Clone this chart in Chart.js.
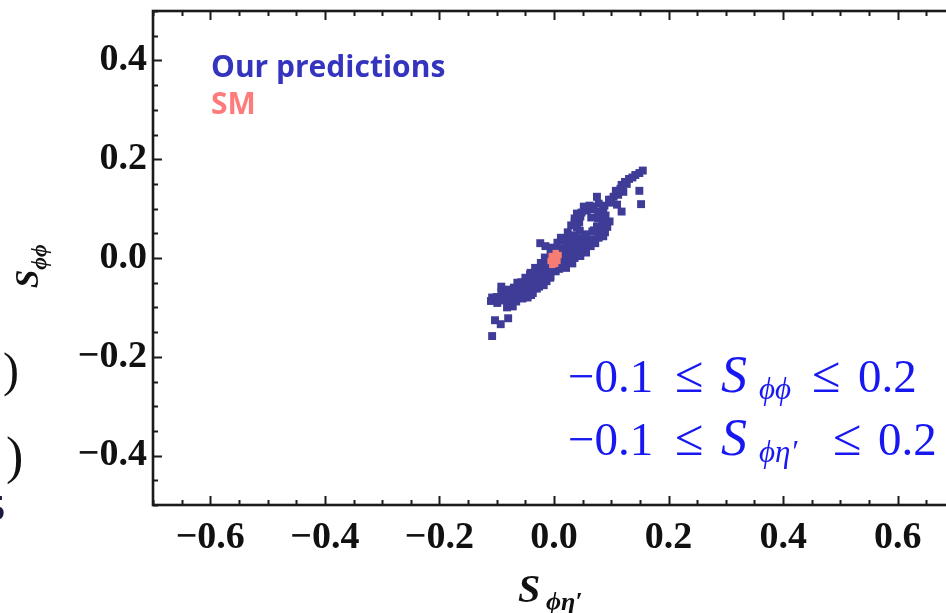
<!DOCTYPE html>
<html>
<head>
<meta charset="utf-8">
<script src="https://cdn.jsdelivr.net/npm/chart.js@4.4.0/dist/chart.umd.min.js"></script>
<style>
  html, body { margin: 0; padding: 0; background: #fff; overflow: hidden; width: 946px; height: 613px; }
  #wrap { position: absolute; left: 0; top: 0; width: 1000px; height: 613px; }
</style>
</head>
<body>
<div id="wrap"><canvas id="scatterChart"></canvas></div>
<script>
// values
const predX = [
  0.024, 0.034, 0.045, 0.056, 0.067, 0.078, 0.089,
  0.012, 0.023, 0.034, 0.045, 0.056, 0.067, 0.078, 0.086,
  0.006, 0.017, 0.028, 0.039, 0.050, 0.061, 0.072, -0.024, -0.015,
  -0.002, 0.010, 0.022, 0.033, 0.044, 0.055, 0.064,
  -0.006, 0.005, 0.016, 0.027, 0.038, 0.048, 0.056, 0.020,
  -0.016, -0.006, 0.006, 0.016, 0.026, 0.036, 0.046,
  -0.023, -0.012, 0.000, 0.011, 0.022, 0.032,
  -0.033, -0.022, -0.011, 0.000, 0.011, 0.021,
  -0.041, -0.030, -0.019, -0.008, 0.003, 0.009,
  -0.050, -0.039, -0.028, -0.017, -0.006,
  -0.057, -0.046, -0.035, -0.024, -0.013, -0.007,
  -0.070, -0.059, -0.048, -0.037, -0.026, -0.018, -0.092, -0.082,
  -0.092, -0.081, -0.070, -0.059, -0.048, -0.037, -0.030,
  -0.100, -0.090, -0.079, -0.068, -0.057, -0.046, -0.040, -0.108,
  -0.110, -0.099, -0.088, -0.077, -0.066, -0.055,
  -0.082, -0.072, -0.080, -0.103, -0.093, -0.108,
  0.030, 0.040, 0.044, 0.075, 0.085, 0.093, 0.083,
  0.036, 0.046, 0.077, 0.088, 0.097,
  0.048, 0.057, 0.066, 0.077, 0.086, 0.118,
  0.069, 0.078, 0.088, 0.097, 0.110, 0.152,
  0.075, 0.096, 0.104, 0.112,
  0.108, 0.116, 0.121, 0.149,
  0.118, 0.124, 0.131, 0.127,
  0.137, 0.142, 0.149, 0.155,
  -0.012, 0.040, 0.058, 0.030, 0.100, 0.065, -0.064, -0.042, 0.090,
  0.036, 0.040, 0.052, 0.062, 0.084, 0.070
];
const predY = [
  0.052, 0.046, 0.055, 0.048, 0.054, 0.047, 0.052,
  0.041, 0.039, 0.042, 0.040, 0.043, 0.038, 0.041, 0.044,
  0.031, 0.036, 0.028, 0.034, 0.029, 0.035, 0.030, 0.030, 0.024,
  0.021, 0.019, 0.024, 0.020, 0.022, 0.018, 0.024,
  0.012, 0.016, 0.009, 0.014, 0.010, 0.016, 0.011, 0.020,
  0.001, -0.002, 0.003, -0.001, 0.002, 0.000, 0.004,
  -0.010, -0.014, -0.008, -0.012, -0.006, -0.011,
  -0.020, -0.023, -0.019, -0.022, -0.018, -0.020,
  -0.030, -0.034, -0.028, -0.033, -0.027, -0.022,
  -0.040, -0.043, -0.039, -0.042, -0.038,
  -0.049, -0.053, -0.048, -0.054, -0.047, -0.040,
  -0.060, -0.063, -0.059, -0.062, -0.058, -0.055, -0.058, -0.064,
  -0.070, -0.074, -0.068, -0.073, -0.067, -0.071, -0.062,
  -0.079, -0.082, -0.078, -0.081, -0.077, -0.080, -0.075, -0.080,
  -0.087, -0.091, -0.086, -0.092, -0.088, -0.082,
  -0.100, -0.098, -0.122, -0.126, -0.134, -0.158,
  0.066, 0.062, 0.072, 0.064, 0.068, 0.063, 0.058,
  0.080, 0.084, 0.080, 0.078, 0.074,
  0.092, 0.096, 0.099, 0.094, 0.096, 0.094,
  0.104, 0.110, 0.106, 0.112, 0.108, 0.109,
  0.124, 0.118, 0.124, 0.128,
  0.136, 0.140, 0.134, 0.136,
  0.148, 0.154, 0.160, 0.150,
  0.163, 0.168, 0.172, 0.177,
  -0.030, 0.028, 0.030, 0.010, 0.118, 0.082, -0.050, -0.034, 0.086,
  0.072, 0.090, 0.104, 0.106, 0.060, 0.056
];
const smX = [-0.004, 0.003, 0.008, -0.006, 0.001, 0.006, -0.003, 0.002];
const smY = [0.004, 0.010, 0.006, -0.006, -0.002, -0.006, -0.014, -0.012];

const xTickValues = [-0.7, -0.65, -0.6, -0.55, -0.5, -0.45, -0.4, -0.35, -0.3, -0.25, -0.2, -0.15, -0.1, -0.05, 0,
  0.05, 0.1, 0.15, 0.2, 0.25, 0.3, 0.35, 0.4, 0.45, 0.5, 0.55, 0.6, 0.65, 0.7];
const yTickValues = [-0.5, -0.45, -0.4, -0.35, -0.3, -0.25, -0.2, -0.15, -0.1, -0.05, 0,
  0.05, 0.1, 0.15, 0.2, 0.25, 0.3, 0.35, 0.4, 0.45, 0.5];
const xTickLabels = [-0.6, -0.4, -0.2, 0, 0.2, 0.4, 0.6];
const yTickLabels = [-0.4, -0.2, 0, 0.2, 0.4];

const predColor = '#3e3c96';
const smColor = '#f77d74';
const serif = '"Liberation Serif", "Times New Roman", serif';

function fmt(v) {
  return (v < -1e-9 ? '\u2212' : '') + Math.abs(v).toFixed(1);
}
function labelFor(list) {
  return function(value) {
    const hit = list.find(t => Math.abs(t - value) < 1e-6);
    return hit === undefined ? '' : fmt(hit);
  };
}

// inward ticks on all four sides + the plot frame
const frameTicks = {
  id: 'frameTicks',
  afterDraw(chart) {
    const {ctx, chartArea: a, scales: {x, y}} = chart;
    ctx.save();
    ctx.strokeStyle = '#1b1b1b';
    ctx.lineWidth = 2.6;
    ctx.strokeRect(a.left, a.top, a.right - a.left, a.bottom - a.top);
    ctx.lineWidth = 2;
    ctx.beginPath();
    x.ticks.forEach(t => {
      const px = Math.round(x.getPixelForValue(t.value)) + 0.5;
      const len = t.label ? 9 : 5;
      ctx.moveTo(px, a.bottom); ctx.lineTo(px, a.bottom - len);
      ctx.moveTo(px, a.top); ctx.lineTo(px, a.top + len);
    });
    y.ticks.forEach(t => {
      const py = Math.round(y.getPixelForValue(t.value)) + 0.5;
      const len = t.label ? 9 : 5;
      ctx.moveTo(a.left, py); ctx.lineTo(a.left + len, py);
      ctx.moveTo(a.right, py); ctx.lineTo(a.right - len, py);
    });
    ctx.stroke();
    ctx.restore();
  }
};

// legend, axis titles, the constraint text and the clipped bits at the left edge
const textLayer = {
  id: 'textLayer',
  afterDraw(chart) {
    const ctx = chart.ctx;
    ctx.save();
    ctx.textAlign = 'left';
    ctx.textBaseline = 'alphabetic';

    // legend text, sized so that the first line spans about the same width as in the source
    const legFont = '"Open Sans", "Noto Sans", sans-serif';
    ctx.font = 'bold 100px ' + legFont;
    const legSize = Math.min(30, 100 * 236 / ctx.measureText('Our predictions').width);
    ctx.font = 'bold ' + legSize.toFixed(1) + 'px ' + legFont;
    ctx.fillStyle = '#3434bf';
    ctx.fillText('Our predictions', 211, 77);
    ctx.fillStyle = '#ff7b7b';
    ctx.fillText('SM', 211, 114);

    // y title
    ctx.save();
    ctx.translate(38, 288);
    ctx.rotate(-Math.PI / 2);
    ctx.fillStyle = '#111';
    ctx.font = 'bold italic 33px ' + serif;
    ctx.fillText('S', 0, 0);
    const wS = ctx.measureText('S').width;
    ctx.font = 'bold italic 22px ' + serif;
    ctx.fillText('\u03d5\u03d5', wS, 8);
    ctx.restore();

    // x title
    ctx.fillStyle = '#111';
    ctx.font = 'bold italic 40px ' + serif;
    ctx.fillText('S', 518, 602);
    ctx.font = 'bold italic 26px ' + serif;
    ctx.fillText('\u03d5\u03b7\u2032', 546, 610);

    // constraint text
    ctx.fillStyle = '#1717f2';
    const lines = [
      {y: 392, sub: '\u03d5\u03d5', le2: 812, num: 858},
      {y: 455, sub: '\u03d5\u03b7\u2032', le2: 833, num: 878}
    ];
    lines.forEach(l => {
      ctx.font = '47px ' + serif;
      ctx.fillText('\u22120.1', 568, l.y);
      ctx.fillText('0.2', l.num, l.y);
      ctx.font = '52px ' + serif;
      ctx.fillText('\u2264', 675, l.y);
      ctx.fillText('\u2264', l.le2, l.y);
      ctx.font = 'italic 52px ' + serif;
      ctx.fillText('S', 721, l.y);
      ctx.font = 'italic 31px ' + serif;
      ctx.fillText(l.sub, 759, l.y + 7);
    });

    // clipped neighbours at the left edge
    ctx.fillStyle = '#111';
    ctx.font = '48px ' + serif;
    ctx.fillText(')', 3, 386);
    ctx.font = '52px ' + serif;
    ctx.fillText(')', 6, 473);
    ctx.fillStyle = '#1a1a40';
    ctx.font = 'bold 36px ' + serif;
    ctx.fillText('5', -13, 520);
    ctx.restore();
  }
};

const ctx = document.getElementById('scatterChart').getContext('2d');
const chart = new Chart(ctx, {
  type: 'scatter',
  data: {
    datasets: [
      {
        label: 'SM',
        data: smX.map((x, i) => ({x: x, y: smY[i]})),
        backgroundColor: smColor,
        borderWidth: 0,
        pointStyle: 'rect',
        pointRadius: 4.5
      },
      {
        label: 'Our predictions',
        data: predX.map((x, i) => ({x: x, y: predY[i]})),
        backgroundColor: predColor,
        borderWidth: 0,
        pointStyle: 'rect',
        pointRadius: 5.6
      }
    ]
  },
  options: {
    responsive: true,
    maintainAspectRatio: false,
    animation: false,
    events: [],
    layout: { padding: { top: 11, right: 45, bottom: 0, left: 0 } },
    plugins: { legend: { display: false }, tooltip: { enabled: false } },
    scales: {
      x: {
        type: 'linear',
        min: -0.7,
        max: 0.7,
        afterBuildTicks: s => { s.ticks = xTickValues.map(v => ({value: v})); },
        afterFit: s => { s.height = 108; s.paddingLeft = 0; s.paddingRight = 0; },
        grid: { display: false, drawTicks: false },
        border: { display: false },
        ticks: {
          autoSkip: false,
          maxRotation: 0,
          padding: 10,
          color: '#111',
          font: { family: serif, weight: 'bold', size: 38 },
          callback: labelFor(xTickLabels)
        }
      },
      y: {
        type: 'linear',
        min: -0.5,
        max: 0.5,
        afterBuildTicks: s => { s.ticks = yTickValues.map(v => ({value: v})); },
        afterFit: s => { s.width = 153; s.paddingTop = 0; s.paddingBottom = 0; },
        grid: { display: false, drawTicks: false },
        border: { display: false },
        ticks: {
          autoSkip: false,
          padding: 6,
          color: '#111',
          font: { family: serif, weight: 'bold', size: 38 },
          callback: labelFor(yTickLabels)
        }
      }
    }
  },
  plugins: [frameTicks, textLayer]
});
</script>
</body>
</html>
